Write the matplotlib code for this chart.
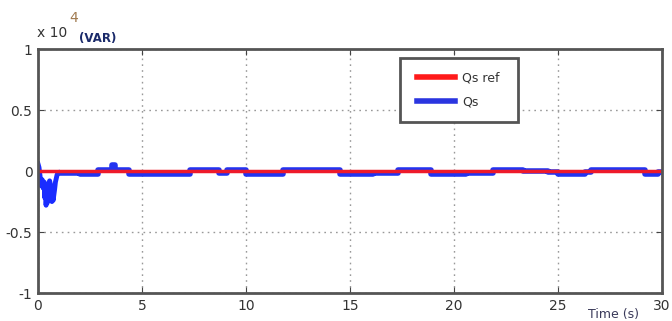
import numpy as np
import matplotlib.pyplot as plt
from matplotlib.patches import Rectangle

# Qs reference (VAR, in units of 1e4)
ref_t = [0, 30]
ref_q = [0, 0]

# Qs measured: start-up transient
trans_t = [0, 0.05, 0.1, 0.15, 0.2, 0.25, 0.3, 0.33, 0.36, 0.39, 0.42, 0.45, 0.48,
           0.52, 0.56, 0.6, 0.64, 0.67, 0.7, 0.73, 0.76, 0.8, 0.84, 0.88, 0.92, 0.96, 1.0]
trans_q = [600, 300, -400, -1200, -700, -1400, -900, -2200, -1500, -2800, -1800, -2600, -1300,
           -1000, -800, -1100, -1800, -2500, -1700, -2400, -2000, -1500, -900, -600, -300, -200, -150]

# Qs measured: step-wise behaviour afterwards
step_t = [1.0, 2.0, 2.9, 3.55, 3.7, 4.4, 5.9, 7.3, 8.7, 9.1, 10.0, 11.8, 14.5, 16.1, 17.3,
          18.9, 20.6, 21.9, 23.3, 24.5, 25.0, 26.3, 26.6, 29.2, 29.8, 30]
step_q = [-120, -200, 120, 500, 120, -200, -200, 120, -120, 120, -200, 120, -200, -120, 120,
          -200, -160, 120, 40, -40, -240, -40, 120, -240, -80, -80]

fig = plt.figure(figsize=(6.72, 3.21), dpi=100)
ax = fig.add_axes([0.0565, 0.087, 0.9285, 0.76])

# measured first (blue), reference on top (red)
ax.plot(trans_t, np.array(trans_q) / 1e4, color='#1a2cff', lw=3.5)
ax.step(step_t, np.array(step_q) / 1e4, where='post', color='#2233f0', lw=4)
ax.plot(ref_t, np.array(ref_q) / 1e4, color='#ee1a2a', lw=2.5)

ax.set_xlim(0, 30)
ax.set_ylim(-1, 1)
ax.set_xticks([0, 5, 10, 15, 20, 25, 30])
ax.set_yticks([-1, -0.5, 0, 0.5, 1])
ax.set_yticklabels(['-1', '-0.5', '0', '0.5', '1'])
ax.grid(True, linestyle=(0, (1.2, 3)), color='#999999', lw=1)
ax.tick_params(direction='in', top=True, right=True, length=4, labelsize=10,
               colors='#444444', labelcolor='#333333', pad=4)
for s in ax.spines.values():
    s.set_color('#555555')
    s.set_linewidth(2)

# legend
ax.add_patch(Rectangle((0.58, 0.70), 0.189, 0.263, transform=ax.transAxes,
                       fill=True, facecolor='white', edgecolor='#555555', lw=2, zorder=5))
ax.plot([], [], color='#ff1a1a', lw=4, label='Qs ref')
ax.plot([], [], color='#2a35e0', lw=4, label='Qs')
leg = ax.legend(loc='upper left', bbox_to_anchor=(0.59, 0.955), frameon=False,
                fontsize=9, handlelength=3.0, labelspacing=0.9, handletextpad=0.6)
leg.set_zorder(6)
for txt in leg.get_texts():
    txt.set_color('#333333')

fig.text(0.055, 0.885, 'x 10', fontsize=10, color='#333333')
fig.text(0.103, 0.93, '4', fontsize=10, color='#a07a50')
fig.text(0.118, 0.87, '(VAR)', fontsize=8.5, color='#1a2a6a', fontweight='bold')
fig.text(0.875, 0.01, 'Time (s)', fontsize=9, color='#3a3a5a')

plt.savefig('out.png', dpi=100)
